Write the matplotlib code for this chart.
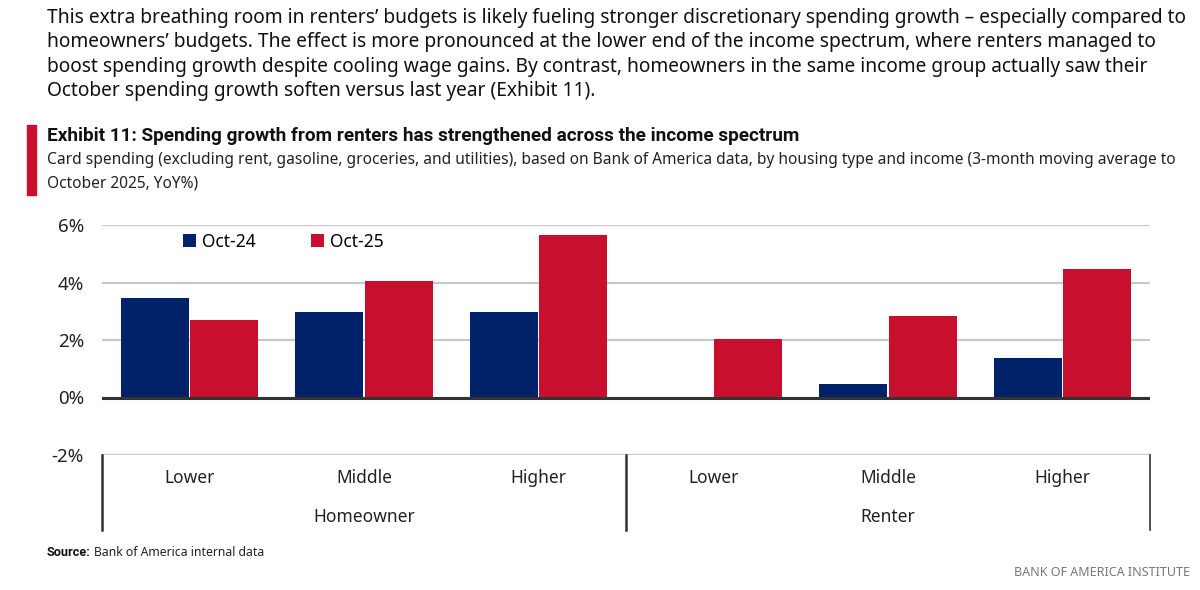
import matplotlib.pyplot as plt
import matplotlib.patches as mpatches
import numpy as np

# Data
groups = ['Homeowner', 'Renter']
incomes = ['Lower', 'Middle', 'Higher']
oct24 = [3.46, 2.99, 2.96, 0.0, 0.48, 1.36]
oct25 = [2.70, 4.06, 5.64, 2.02, 2.85, 4.47]
series_names = ['Oct-24', 'Oct-25']
yticks = [-2, 0, 2, 4, 6]

BLUE = '#012169'
RED = '#c8102e'
FONT = ['Noto Sans', 'DejaVu Sans']
BOLD = ['Roboto', 'DejaVu Sans']

fig = plt.figure(figsize=(12, 5.9), dpi=100)

# Header text
para = [
    "This extra breathing room in renters\u2019 budgets is likely fueling stronger discretionary spending growth \u2013 especially compared to",
    "homeowners\u2019 budgets. The effect is more pronounced at the lower end of the income spectrum, where renters managed to",
    "boost spending growth despite cooling wage gains. By contrast, homeowners in the same income group actually saw their",
    "October spending growth soften versus last year (Exhibit 11).",
]
for i, line in enumerate(para):
    fig.text(47 / 1200, 1 - (18 + i * 24.5) / 590, line, family=FONT,
             fontsize=13.8, va='center', ha='left', color='#111111')

fig.patches.append(mpatches.Rectangle((27 / 1200, 1 - 195 / 590), 9 / 1200, 70 / 590,
                                      transform=fig.transFigure, color=RED))
fig.text(47 / 1200, 1 - 136 / 590,
         "Exhibit 11: Spending growth from renters has strengthened across the income spectrum",
         family=BOLD, fontsize=13.7, fontweight='bold', va='center', color='#111111')
fig.text(47 / 1200, 1 - 160 / 590,
         "Card spending (excluding rent, gasoline, groceries, and utilities), based on Bank of America data, by housing type and income (3-month moving average to",
         family=FONT, fontsize=11.15, va='center', color='#222222')
fig.text(47 / 1200, 1 - 183 / 590, "October 2025, YoY%)",
         family=FONT, fontsize=11.15, va='center', color='#222222')

# Chart
ax = fig.add_axes([102 / 1200, 1 - 455 / 590, 1048 / 1200, 230 / 590])
x = np.arange(len(oct24))
w = 0.39
ax.bar(x - w / 2 - 0.003, oct24, w, color=BLUE, label=series_names[0], zorder=3)
ax.bar(x + w / 2 + 0.003, oct25, w, color=RED, label=series_names[1], zorder=3)

ax.set_xlim(-0.5, 5.5)
ax.set_ylim(-2, 6)
ax.set_yticks(yticks)
ax.set_yticklabels([f'{v}%' for v in yticks], family=FONT, fontsize=13.5, color='#222222')
ax.tick_params(axis='y', length=0, pad=13)
ax.set_xticks([])
for s in ax.spines.values():
    s.set_visible(False)
ax.grid(axis='y', color='#c8c8c8', linewidth=1.6, zorder=0)
ax.axhline(0, color='#333333', linewidth=2.2, zorder=4)

# Category labels below the chart
for i in range(len(oct24)):
    ax.annotate(incomes[i % 3], xy=(i, 0), xycoords=('data', 'axes fraction'),
                xytext=(0, -23), textcoords='offset pixels', ha='center', va='center',
                family=FONT, fontsize=12.5, color='#222222')
for g, name in enumerate(groups):
    ax.annotate(name, xy=(g * 3 + 1, 0), xycoords=('data', 'axes fraction'),
                xytext=(0, -62), textcoords='offset pixels', ha='center', va='center',
                family=FONT, fontsize=12.5, color='#222222')
for xs in [-0.5, 2.5, 5.5]:
    ax.plot([xs, xs], [0, -75 / 230], transform=ax.get_xaxis_transform(),
            color='#333333', linewidth=1.8 if xs != 5.5 else 1.2, clip_on=False)

leg = ax.legend(loc='upper left', bbox_to_anchor=(0.062, 1.035), ncol=2, frameon=False,
                handlelength=0.75, handleheight=0.75, handletextpad=0.35, columnspacing=3.2,
                prop={'family': FONT, 'size': 12.5})

# Footer
src = fig.text(47 / 1200, 1 - 552 / 590, "Source:", family=BOLD, fontsize=9.2,
               fontweight='bold', va='center', color='#111111')
ax.annotate("Bank of America internal data", xy=(1, 0.5), xycoords=src,
            xytext=(3, 0), textcoords='offset pixels', va='center', ha='left',
            family=FONT, fontsize=8.8, color='#222222')
fig.text(1190 / 1200, 1 - 573 / 590, "BANK OF AMERICA INSTITUTE", family=FONT,
         fontsize=9, va='center', ha='right', color='#777777')

fig.savefig('out.png', dpi=100)
